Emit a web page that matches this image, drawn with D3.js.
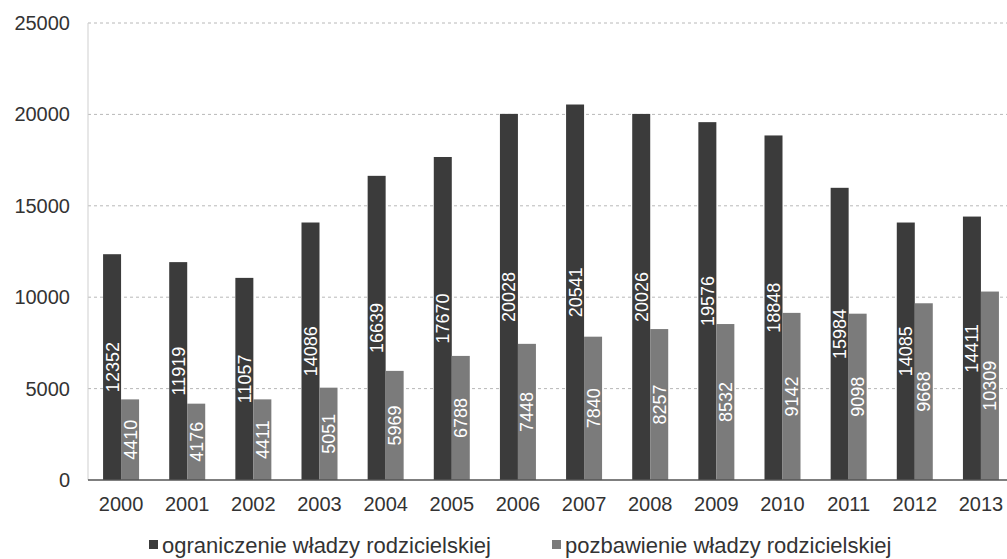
<!DOCTYPE html>
<html>
<head>
<meta charset="utf-8">
<script src="https://cdn.jsdelivr.net/npm/d3@7"></script>
<style>
  body { margin: 0; background: #fff; }
  svg { display: block; font-family: "Liberation Sans", Arial, sans-serif; }
</style>
</head>
<body>
<svg id="chart" width="1007" height="559"></svg>
<script>
const years = ["2000", "2001", "2002", "2003", "2004", "2005", "2006",
  "2007", "2008", "2009", "2010", "2011", "2012", "2013"];
const ograniczenie = [12352, 11919, 11057, 14086, 16639, 17670, 20028,
  20541, 20026, 19576, 18848, 15984, 14085, 14411];
const pozbawienie = [4410, 4176, 4411, 5051, 5969, 6788, 7448,
  7840, 8257, 8532, 9142, 9098, 9668, 10309];
const seriesNames = ["ograniczenie władzy rodzicielskiej", "pozbawienie władzy rodzicielskiej"];
const yTicks = [0, 5000, 10000, 15000, 20000, 25000];

const colors = ["#3b3b3b", "#7b7b7b"];

const svg = d3.select("#chart");

const x = d3.scaleBand().domain(years).range([88, 1014]).paddingInner(0).paddingOuter(0);
const y = d3.scaleLinear().domain([0, 25000]).range([480, 23]);
const sub = d3.scaleBand().domain([0, 1]).range([0, 36]);
const barOffset = (x.bandwidth() - 36) / 2;

// gridlines
svg.append("g")
  .selectAll("line")
  .data(yTicks.filter(d => d > 0))
  .join("line")
  .attr("x1", 88).attr("x2", 1014)
  .attr("y1", d => y(d)).attr("y2", d => y(d))
  .attr("stroke", "#b8b8b8")
  .attr("stroke-width", 1)
  .attr("stroke-dasharray", "3,3");

// left axis line
svg.append("line")
  .attr("x1", 88).attr("x2", 88)
  .attr("y1", y(25000)).attr("y2", y(0))
  .attr("stroke", "#cfcfcf");

// y tick labels
svg.append("g")
  .selectAll("text")
  .data(yTicks)
  .join("text")
  .attr("x", 70)
  .attr("y", d => y(d))
  .attr("dy", "0.35em")
  .attr("text-anchor", "end")
  .style("font-size", "20px")
  .style("fill", "#333")
  .text(d => d);

// bars
const data = years.map((yr, i) => ({ year: yr, values: [ograniczenie[i], pozbawienie[i]] }));

const groups = svg.append("g")
  .selectAll("g")
  .data(data)
  .join("g")
  .attr("transform", d => `translate(${x(d.year) + barOffset},0)`);

groups.selectAll("rect")
  .data(d => d.values.map((v, k) => ({ k, v })))
  .join("rect")
  .attr("x", d => sub(d.k))
  .attr("y", d => y(d.v))
  .attr("width", sub.bandwidth())
  .attr("height", d => y(0) - y(d.v))
  .attr("fill", d => colors[d.k]);

groups.selectAll("text")
  .data(d => d.values.map((v, k) => ({ k, v })))
  .join("text")
  .attr("transform", d => {
    const cx = sub(d.k) + sub.bandwidth() / 2;
    const cy = (y(d.v) + y(0)) / 2;
    return `translate(${cx},${cy}) rotate(-90)`;
  })
  .attr("text-anchor", "middle")
  .attr("dy", "0.36em")
  .style("font-size", "18px")
  .style("fill", "#fff")
  .text(d => d.v);

// bottom axis line
svg.append("line")
  .attr("x1", 88).attr("x2", 1014)
  .attr("y1", y(0)).attr("y2", y(0))
  .attr("stroke", "#555")
  .attr("stroke-width", 1.5);

// x labels
svg.append("g")
  .selectAll("text")
  .data(years)
  .join("text")
  .attr("x", d => x(d) + x.bandwidth() / 2)
  .attr("y", 511)
  .attr("text-anchor", "middle")
  .style("font-size", "20px")
  .style("fill", "#333")
  .text(d => d);

// legend
const legendX = [149, 552];
const legend = svg.append("g")
  .selectAll("g")
  .data(seriesNames)
  .join("g")
  .attr("transform", (d, i) => `translate(${legendX[i]},545)`);

legend.append("rect")
  .attr("x", 0).attr("y", -5)
  .attr("width", 9).attr("height", 9)
  .attr("fill", (d, i) => colors[i]);

legend.append("text")
  .attr("x", 13)
  .attr("y", 0)
  .attr("dy", "0.35em")
  .style("font-size", "22px")
  .style("fill", "#333")
  .text(d => d);
</script>
</body>
</html>
